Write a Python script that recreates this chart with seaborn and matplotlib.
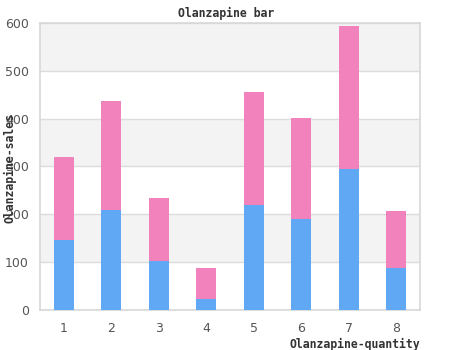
import matplotlib
matplotlib.use("Agg")
import matplotlib.pyplot as plt
import seaborn as sns
import pandas as pd

categories = ["1", "2", "3", "4", "5", "6", "7", "8"]
blue_values = [146, 209, 102, 23, 220, 191, 294, 88]
pink_values = [174, 228, 132, 65, 236, 211, 300, 119]
y_ticks = [0, 100, 200, 300, 400, 500, 600]

sns.set_theme(style="white")
plt.rcParams['font.family'] = ['DejaVu Sans']

totals = [b + p for b, p in zip(blue_values, pink_values)]
df = pd.DataFrame({"cat": categories, "blue": blue_values, "total": totals})

fig = plt.figure(figsize=(4.5, 3.5), dpi=100)
ax = fig.add_axes([40/450, 40/350, 380/450, 287/350])

for lo in (100, 300, 500):
    ax.axhspan(lo, lo + 100, color="#f3f3f3", zorder=0, lw=0)

sns.barplot(data=df, x="cat", y="total", color="#f282bb", width=0.42,
            saturation=1, ax=ax, zorder=3, linewidth=0)
sns.barplot(data=df, x="cat", y="blue", color="#60a8f4", width=0.42,
            saturation=1, ax=ax, zorder=4, linewidth=0)

ax.set_ylim(0, 600)
ax.set_xlim(-0.5, 7.5)
ax.set_yticks(y_ticks)
ax.yaxis.grid(True, color="#dcdcdc", lw=1, zorder=1)
ax.set_axisbelow(True)
for s in ax.spines.values():
    s.set_color("#d8d8d8")
    s.set_linewidth(1.2)
ax.tick_params(axis="both", length=0, labelsize=9, colors="#555555")
ax.tick_params(axis="x", pad=9)
ax.tick_params(axis="y", pad=8)

ax.set_xlabel("")
ax.set_ylabel("")
fig.text(226/450, 1 - 13/350, "Olanzapine bar", ha="center", va="center",
         family="DejaVu Sans Mono", fontweight="bold", fontsize=8.3, color="#333333")
fig.text(420/450, 1 - 344/350, "Olanzapine-quantity", ha="right", va="center",
         family="DejaVu Sans Mono", fontweight="bold", fontsize=8.3, color="#333333")
fig.text(10/450, 1 - 168/350, "Olanzapine-sales", ha="center", va="center",
         rotation=90, family="DejaVu Sans Mono", fontweight="bold", fontsize=8.3,
         color="#333333")

fig.savefig("out.png", dpi=100)
